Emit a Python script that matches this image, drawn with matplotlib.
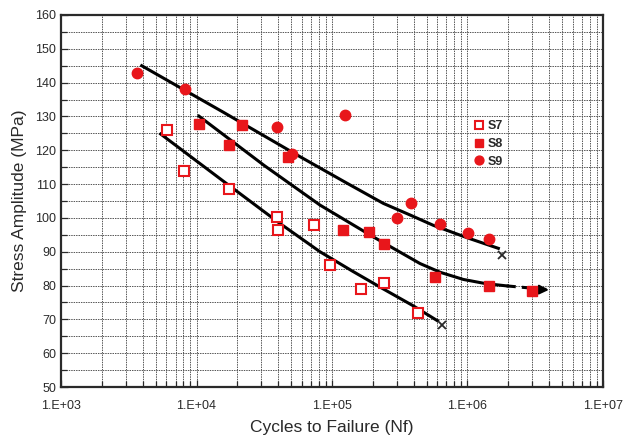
import numpy as np
import matplotlib
matplotlib.use('Agg')
import matplotlib.pyplot as plt
from matplotlib.ticker import LogLocator, FixedLocator, MultipleLocator, NullFormatter

plt.rcParams['font.family'] = ['Liberation Sans', 'DejaVu Sans']

# Ensaigs de fatiga: cicles a trencament i amplitud de tensió (MPa)
s7_N = [6100, 8130, 17290, 39450, 39700, 73960, 96600, 163000, 240600, 433800]
s7_S = [126.0, 113.9, 108.6, 100.2, 96.3, 97.9, 86.2, 78.9, 80.85, 71.8]

s8_N = [10420, 17290, 21780, 47300, 119900, 186600, 242000, 579000, 1436000, 3008000]
s8_S = [127.7, 121.6, 127.6, 118.0, 96.4, 95.9, 92.3, 82.4, 79.8, 78.4]

s9_N = [3620, 8260, 39070, 50700, 125300, 302000, 381000, 630000, 1003000, 1443000]
s9_S = [142.9, 138.2, 126.8, 118.9, 130.4, 99.9, 104.3, 98.1, 95.45, 93.7]

# Corbes de tendència dibuixades a mà (punts llegits sobre la corba)
c7_N = [5440, 15850, 40500, 81500, 141000, 239000, 398000, 600000]
c7_S = [124.8, 110.8, 98.6, 90.0, 84.3, 79.0, 74.0, 69.6]

c8_N = [10420, 31600, 81500, 199500, 446700, 631000, 933000, 1349000, 1945000]
c8_S = [130.1, 115.5, 103.8, 94.5, 86.5, 83.9, 81.8, 80.6, 79.9]
c8_run_N = [1945000, 4180000]      # tram discontinu (runout)
c8_run_S = [79.9, 78.7]

c9_N = [3940, 15850, 58100, 125900, 239000, 380000, 560000, 1000000, 1690000]
c9_S = [145.0, 131.2, 118.1, 110.5, 104.3, 100.8, 97.8, 94.1, 91.0]

fail_N = [645000, 1790000]         # final de les corbes (x)
fail_S = [68.3, 88.9]

xtick_vals = [1e3, 1e4, 1e5, 1e6, 1e7]
xtick_labels = ['1.E+03', '1.E+04', '1.E+05', '1.E+06', '1.E+07']

vermell = '#e8161b'
gris = '#2a2a2a'

fig = plt.figure(figsize=(6.24, 4.37), dpi=100)
ax = fig.add_axes([0.0978, 0.1144, 0.8685, 0.8513])

ax.set_xscale('log')
ax.set_xlim(1e3, 1e7)
ax.set_ylim(50, 160)

# graella densa (major + minor)
ax.xaxis.set_major_locator(FixedLocator(xtick_vals))
ax.xaxis.set_minor_locator(LogLocator(base=10, subs=np.arange(2, 10)))
ax.xaxis.set_minor_formatter(NullFormatter())
ax.set_xticklabels(xtick_labels)
ax.yaxis.set_major_locator(MultipleLocator(10))
ax.yaxis.set_minor_locator(MultipleLocator(5))
ax.grid(True, which='both', color='#555555', linestyle=(0, (1.5, 1)), linewidth=0.7)
ax.set_axisbelow(True)

ax.tick_params(which='both', direction='in', top=False, right=False, colors=gris,
               labelsize=9, width=0.9)
ax.tick_params(axis='x', which='both', pad=9)
ax.tick_params(which='major', length=5)
ax.tick_params(which='minor', length=4)
for s in ax.spines.values():
    s.set_linewidth(1.6)
    s.set_color(gris)

# corbes S-N
ax.plot(c7_N, c7_S, color='black', lw=2.2, zorder=3)
ax.plot(c8_N, c8_S, color='black', lw=2.2, zorder=3)
ax.plot(c9_N, c9_S, color='black', lw=2.2, zorder=3)
ax.plot(c8_run_N, c8_run_S, color='black', lw=2.2, linestyle=(0, (3, 2)), zorder=3)
ax.annotate('', xy=(c8_run_N[1], c8_run_S[1]), xytext=(c8_run_N[1] * 0.8, c8_run_S[1] + 0.1),
            arrowprops=dict(arrowstyle='-|>', color='black', lw=1.5, mutation_scale=14), zorder=4)
ax.plot(fail_N, fail_S, linestyle='none', marker='x', color=gris, ms=6, mew=1.3, zorder=4)

# punts experimentals
ax.plot(s7_N, s7_S, linestyle='none', marker='s', ms=6.5, mfc='white', mec=vermell, mew=1.5,
        label='S7', zorder=5)
ax.plot(s8_N, s8_S, linestyle='none', marker='s', ms=7, color=vermell, label='S8', zorder=5)
ax.plot(s9_N, s9_S, linestyle='none', marker='o', ms=7.5, color=vermell, label='S9', zorder=5)

leg = ax.legend(loc='upper left', bbox_to_anchor=(0.745, 0.74), frameon=False,
                handlelength=0.8, handletextpad=0.3, labelspacing=0.45, borderpad=0.2,
                prop={'size': 9, 'weight': 'bold'}, markerscale=0.85)
for t in leg.get_texts():
    t.set_color(gris)

ax.set_xlabel('Cycles to Failure (Nf)', fontsize=12.5, color=gris, labelpad=6)
ax.set_ylabel('Stress Amplitude (MPa)', fontsize=12.5, color=gris, labelpad=6)

fig.savefig('out.png', dpi=100)
